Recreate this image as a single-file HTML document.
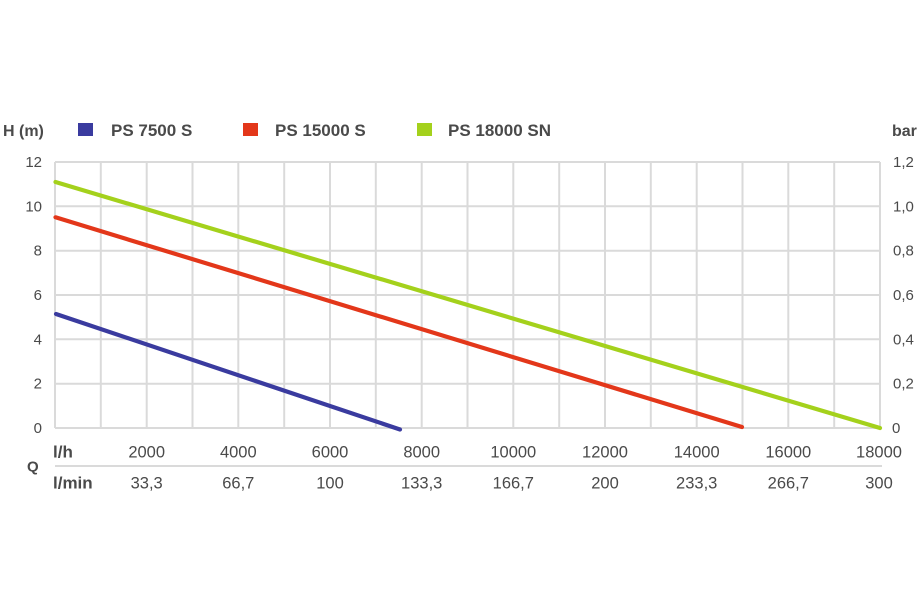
<!DOCTYPE html>
<html><head><meta charset="utf-8"><style>
html,body{margin:0;padding:0;background:#fff;}
svg{display:block;}
text{font-family:"Liberation Sans",Arial,sans-serif;fill:#4a4a4a;}
.b{font-weight:bold;}
</style></head><body>
<svg width="920" height="613" viewBox="0 0 920 613" xmlns="http://www.w3.org/2000/svg">
<rect width="920" height="613" fill="#fff"/>
<g stroke="#dadada" stroke-width="2" fill="none">
<line x1="55" y1="162" x2="880" y2="162"/>
<line x1="55" y1="206.3" x2="880" y2="206.3"/>
<line x1="55" y1="250.7" x2="880" y2="250.7"/>
<line x1="55" y1="295" x2="880" y2="295"/>
<line x1="55" y1="339.3" x2="880" y2="339.3"/>
<line x1="55" y1="383.7" x2="880" y2="383.7"/>
<line x1="55" y1="428" x2="880" y2="428"/>
<line x1="55" y1="162" x2="55" y2="428"/>
<line x1="100.8" y1="162" x2="100.8" y2="428"/>
<line x1="146.7" y1="162" x2="146.7" y2="428"/>
<line x1="192.5" y1="162" x2="192.5" y2="428"/>
<line x1="238.3" y1="162" x2="238.3" y2="428"/>
<line x1="284.2" y1="162" x2="284.2" y2="428"/>
<line x1="330" y1="162" x2="330" y2="428"/>
<line x1="375.8" y1="162" x2="375.8" y2="428"/>
<line x1="421.7" y1="162" x2="421.7" y2="428"/>
<line x1="467.5" y1="162" x2="467.5" y2="428"/>
<line x1="513.3" y1="162" x2="513.3" y2="428"/>
<line x1="559.2" y1="162" x2="559.2" y2="428"/>
<line x1="605" y1="162" x2="605" y2="428"/>
<line x1="650.8" y1="162" x2="650.8" y2="428"/>
<line x1="696.7" y1="162" x2="696.7" y2="428"/>
<line x1="742.5" y1="162" x2="742.5" y2="428"/>
<line x1="788.3" y1="162" x2="788.3" y2="428"/>
<line x1="834.2" y1="162" x2="834.2" y2="428"/>
<line x1="880" y1="162" x2="880" y2="428"/>
<line x1="55" y1="466" x2="882" y2="466"/>
</g>
<g stroke-width="4.2" stroke-linecap="round" fill="none">
<line x1="55.5" y1="182" x2="880" y2="428" stroke="#a4d11c"/>
<line x1="55.5" y1="217.3" x2="742" y2="427" stroke="#e3371a"/>
<line x1="56" y1="314" x2="400" y2="429.5" stroke="#3a3b9f"/>
</g>
<!-- legend -->
<text x="3" y="136" class="b" font-size="16">H (m)</text>
<rect x="78" y="123" width="15" height="13" fill="#3a3b9f"/>
<text x="111" y="136" class="b" font-size="17">PS 7500 S</text>
<rect x="243" y="123" width="15" height="13" fill="#e3371a"/>
<text x="275" y="136" class="b" font-size="17">PS 15000 S</text>
<rect x="417" y="123" width="15" height="13" fill="#a4d11c"/>
<text x="448" y="136" class="b" font-size="17">PS 18000 SN</text>
<text x="892" y="136" class="b" font-size="16">bar</text>
<!-- left axis -->
<g font-size="15" text-anchor="end">
<text x="42" y="167">12</text>
<text x="42" y="211.3">10</text>
<text x="42" y="255.7">8</text>
<text x="42" y="300">6</text>
<text x="42" y="344.3">4</text>
<text x="42" y="388.7">2</text>
<text x="42" y="433">0</text>
</g>
<g font-size="15">
<text x="893" y="167">1,2</text>
<text x="893" y="211.3">1,0</text>
<text x="893" y="255.7">0,8</text>
<text x="893" y="300">0,6</text>
<text x="893" y="344.3">0,4</text>
<text x="893" y="388.7">0,2</text>
<text x="892" y="433">0</text>
</g>
<!-- bottom -->
<text x="53" y="457.5" class="b" font-size="17">l/h</text>
<text x="27" y="471.5" class="b" font-size="15">Q</text>
<text x="53" y="488.5" class="b" font-size="17">l/min</text>
<g font-size="16.5" text-anchor="middle">
<text x="146.7" y="457.5">2000</text>
<text x="238.3" y="457.5">4000</text>
<text x="330" y="457.5">6000</text>
<text x="421.7" y="457.5">8000</text>
<text x="513.3" y="457.5">10000</text>
<text x="605" y="457.5">12000</text>
<text x="696.7" y="457.5">14000</text>
<text x="788.3" y="457.5">16000</text>
<text x="879" y="457.5">18000</text>
<text x="146.7" y="488.5">33,3</text>
<text x="238.3" y="488.5">66,7</text>
<text x="330" y="488.5">100</text>
<text x="421.7" y="488.5">133,3</text>
<text x="513.3" y="488.5">166,7</text>
<text x="605" y="488.5">200</text>
<text x="696.7" y="488.5">233,3</text>
<text x="788.3" y="488.5">266,7</text>
<text x="879" y="488.5">300</text>
</g>
</svg>
</body></html>
